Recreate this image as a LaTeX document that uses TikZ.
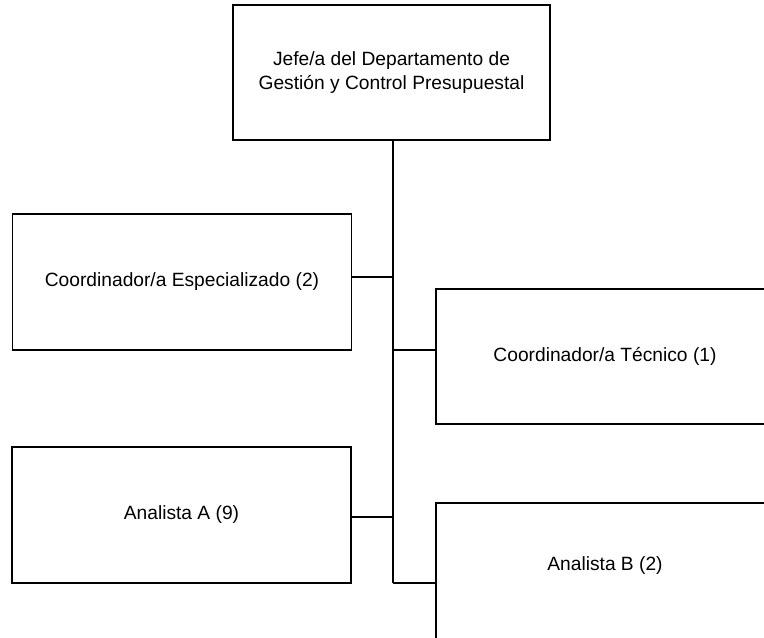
\documentclass[tikz,border=0pt]{standalone}
\usepackage{fontspec}
\setmainfont{Liberation Sans}
\usepackage{tikz}
\usetikzlibrary{positioning,calc}
\definecolor{cizgi}{HTML}{000000}
\tikzset{
  caja/.style={draw=cizgi,line width=1pt,rectangle,minimum width=254.25pt,minimum height=102pt,
    inner sep=0pt,align=center,font=\fontsize{14.4}{18}\selectfont},
  rama/.style={draw=cizgi,line width=1pt}
}

\begin{document}
\begin{tikzpicture}[x=0.75pt,y=-0.75pt]
\useasboundingbox (0,0) rectangle (764,637);
\clip (0,0) rectangle (764,637);
% jefatura
\node[caja,minimum width=237.75pt,minimum height=101.25pt] (jefe) at (391.5,72.5)
  {Jefe/a del Departamento de\\Gestión y Control Presupuestal};
% coordinadores
\node[caja] (coordE) at (182,282) {Coordinador/a Especializado (2)};
\node[caja,minimum width=253.5pt,minimum height=101.25pt] (coordT) at (605,356.5) {Coordinador/a Técnico (1)};
% analistas
\node[caja] (anaA) at (181.5,515) {Analista A (9)};
\node[caja,minimum width=253.5pt,minimum height=102.75pt] (anaB) at (605,571.5) {};
\node[font=\fontsize{14.4}{18}\selectfont] (txtB) at (605,566) {Analista B (2)};
% tronco vertical
\coordinate (t1) at (393,277);
\coordinate (t2) at (393,350);
\coordinate (t3) at (393,517);
\coordinate (t4) at (393,583);
\draw[rama] (jefe.south -| t1) -- (t4);
\draw[rama] (t1) -- (t1 -| coordE.east);
\draw[rama] (t2) -- (t2 -| coordT.west);
\draw[rama] (t3) -- (t3 -| anaA.east);
\draw[rama] (t4) -- (t4 -| anaB.west);
\end{tikzpicture}
\end{document}
